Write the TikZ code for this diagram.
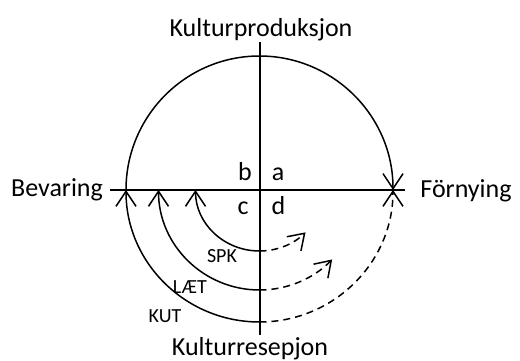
\documentclass[tikz,border=0pt]{standalone}
\usepackage{fontspec}
\setmainfont{Carlito}
\usetikzlibrary{arrows.meta}
\begin{document}
\begin{tikzpicture}[x=1pt,y=1pt,
  big/.style={font=\fontsize{26}{30}\selectfont, inner sep=0pt, anchor=base},
  small/.style={font=\fontsize{20}{24}\selectfont, inner sep=0pt, anchor=base},
  axis/.style={line width=1.2pt},
  flow/.style={line width=1.5pt, -{Straight Barb[length=15pt,width=20pt,line width=1.5pt]}},
  dflow/.style={flow, dash pattern=on 7pt off 5pt}]
\useasboundingbox (0,0) rectangle (520,361);
% axes
\coordinate (L) at (110,171);
\coordinate (R) at (405,171);
\coordinate (T) at (260,319);
\coordinate (B) at (260,26);
\draw[axis] (L) -- (R);
\draw[axis] (T) -- (B);
% labels
\node[big] (prod) at (261,324) {Kulturproduksjon};
\node[big] (res) at (250,5) {Kulturresepjon};
\node[big] (bev) at (57,164) {Bevaring};
\node[big] (forn) at (466,163) {Förnying};
\node[big] (lb) at (245,180) {b};
\node[big] (la) at (278,180) {a};
\node[big] (lc) at (243,146) {c};
\node[big] (ld) at (278.5,146) {d};
\node[small] (spk) at (222,98) {SPK};
\node[small] (laet) at (190,67) {LÆT};
\node[small] (kut) at (165,38) {KUT};
% top arc
\coordinate (topstart) at (126,171);
\draw[flow] (topstart) arc[start angle=180, end angle=0, x radius=133.5, y radius=134];
% KUT
\coordinate (kutS) at (259.5,39);
\draw[flow] (kutS) arc[start angle=270, end angle=180, x radius=133.5, y radius=132];
\draw[dflow] (kutS) arc[start angle=270, end angle=360, x radius=133.5, y radius=132];
% LAET
\coordinate (laetS) at (259.5,71);
\draw[flow] (laetS) arc[start angle=270, end angle=180, x radius=101, y radius=100];
\draw[dflow] (laetS) arc[start angle=270, end angle=316, x radius=101, y radius=100];
% SPK
\coordinate (spkS) at (259.5,110);
\draw[flow] (spkS) arc[start angle=270, end angle=180, x radius=64, y radius=61];
\draw[dflow] (spkS) arc[start angle=270, end angle=316, x radius=64, y radius=61];
\end{tikzpicture}
\end{document}
